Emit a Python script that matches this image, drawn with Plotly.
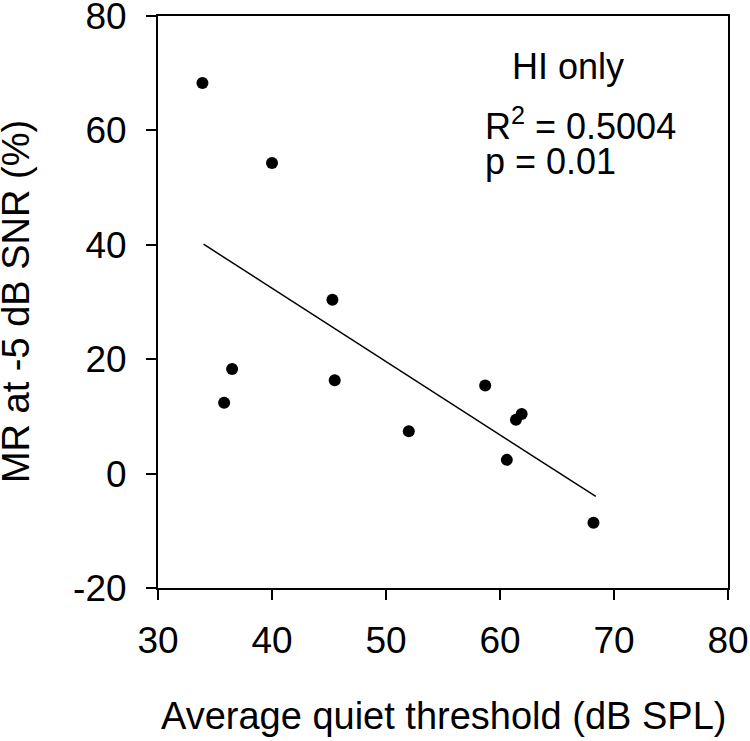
import plotly.graph_objects as go

threshold = [33.9, 40.0, 45.3, 36.5, 35.8, 45.5, 52.0, 58.7, 61.9, 61.4, 60.6, 68.2]
mr = [68.3, 54.3, 30.4, 18.3, 12.4, 16.3, 7.4, 15.4, 10.4, 9.4, 2.4, -8.6]
fit_x = [34.0, 68.4]
fit_y = [40.1, -4.0]
x_ticks = [30, 40, 50, 60, 70, 80]
y_ticks = [-20, 0, 20, 40, 60, 80]
y_ticktext = ["-20", "0", "20", "40", "60", "80"]

FONT = "Liberation Sans, Arial, sans-serif"
TICK = 37

fig = go.Figure()
fig.add_trace(go.Scatter(x=fit_x, y=fit_y, mode="lines",
                         line=dict(color="black", width=1.5), showlegend=False))
fig.add_trace(go.Scatter(x=threshold, y=mr, mode="markers",
                         marker=dict(color="black", size=12), showlegend=False))

axis_common = dict(showline=True, linecolor="black", linewidth=2, mirror=True,
                   ticks="outside", ticklen=10, tickwidth=2, tickcolor="black",
                   showgrid=False, zeroline=False, automargin=False,
                   ticklabeloverflow="allow",
                   tickfont=dict(family=FONT, size=TICK, color="black"))

fig.update_xaxes(range=[30, 80], tickvals=x_ticks, ticklabelstandoff=9, **axis_common)
fig.update_yaxes(range=[-20, 80], tickvals=y_ticks, ticktext=y_ticktext,
                 ticklabelstandoff=12, **axis_common)

fig.add_annotation(x=0.5, y=-0.224, xref="paper", yref="paper",
                   text="Average quiet threshold (dB SPL)", showarrow=False,
                   xanchor="center", yanchor="middle",
                   font=dict(family=FONT, size=38, color="black"))
fig.add_annotation(x=-0.249, y=0.50, xref="paper", yref="paper",
                   text="MR at -5 dB SNR (%)", showarrow=False, textangle=-90,
                   xanchor="center", yanchor="middle",
                   font=dict(family=FONT, size=38, color="black"))

fig.add_annotation(x=65.96, y=71.1, xref="x", yref="y", text="HI only",
                   showarrow=False, xanchor="center", yanchor="middle",
                   font=dict(family=FONT, size=36, color="black"))
fig.add_annotation(x=58.5, y=61.1, xref="x", yref="y", text="R<sup>2</sup> = 0.5004",
                   showarrow=False, xanchor="left", yanchor="middle",
                   font=dict(family=FONT, size=36, color="black"))
fig.add_annotation(x=58.5, y=54.5, xref="x", yref="y", text="p = 0.01",
                   showarrow=False, xanchor="left", yanchor="middle",
                   font=dict(family=FONT, size=36, color="black"))

fig.update_layout(width=750, height=741, margin=dict(l=158, r=22, t=16, b=153),
                  plot_bgcolor="white", paper_bgcolor="white")
fig.write_html("out.html", config={"displayModeBar": False},
               post_script="document.body.style.margin='0';document.body.style.overflow='hidden';")
